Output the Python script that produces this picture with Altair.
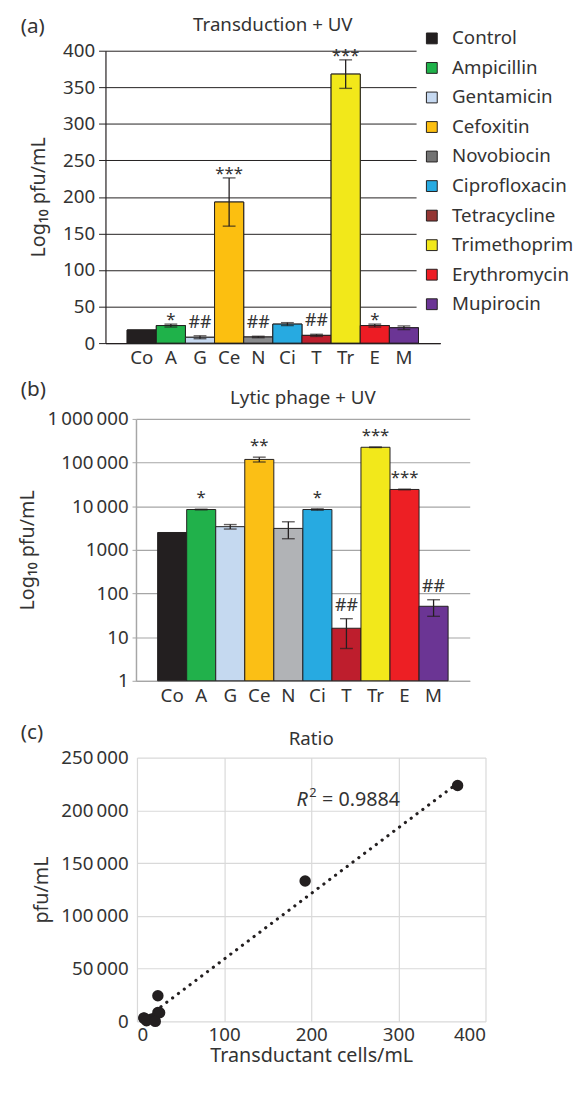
import altair as alt
import pandas as pd

FONT = "Noto Sans"
TXT = "#333333"
INK = "#231f20"
GRAY = "#a6a6a6"

codes = ["Co", "A", "G", "Ce", "N", "Ci", "T", "Tr", "E", "M"]
drugs = ["Control", "Ampicillin", "Gentamicin", "Cefoxitin", "Novobiocin",
         "Ciprofloxacin", "Tetracycline", "Trimethoprim", "Erythromycin", "Mupirocin"]
legend_colors = ["#231f20", "#1fb24a", "#c6d9f1", "#fcbf10", "#737373",
                 "#27aae1", "#943634", "#f2e81a", "#ed1c24", "#6b3595"]
bar_colors_a = ["#231f20", "#1fb24a", "#c6d9f1", "#fcbf10", "#8a8b8d",
                "#27aae1", "#be1e2d", "#f2e81a", "#ed1c24", "#6b3595"]
bar_colors_b = ["#231f20", "#21b14b", "#c5d9f0", "#fbbf15", "#b1b3b6",
                "#27aae1", "#be1e2d", "#f2e81b", "#ed1f24", "#6b3594"]

# (a) Transduction + UV
trans_mean = [18, 24, 8, 193, 8.4, 26, 10.6, 368, 24, 21]
trans_err = [0, 2, 2, 33, 1, 2, 1.5, 19.5, 2, 2.5]
trans_sig = ["", "*", "##", "***", "##", "", "##", "***", "*", ""]

# (b) Lytic phage + UV
lytic_mean = [2500, 8400, 3400, 118000, 3100, 8400, 16, 224000, 24200, 51]
lytic_err = [0, 150, 400, 15000, 1300, 300, 10.5, 3000, 400, 21]
lytic_sig = ["", "*", "", "**", "", "*", "##", "***", "***", "##"]

# (c) Ratio
ratio_x = [18, 24, 8, 193, 8, 26, 11, 368, 24, 21]
ratio_y = [2500, 8400, 3000, 133000, 3400, 8200, 600, 223500, 24400, 50]
trend_x = [7.5, 368]
trend_y = [1500, 225700]

y_ticks_a = [0, 50, 100, 150, 200, 250, 300, 350, 400]
y_ticks_b = [1, 10, 100, 1000, 10000, 100000, 1000000]
x_ticks_c = [0, 100, 200, 300, 400]
y_ticks_c = [0, 50000, 100000, 150000, 200000, 250000]

SP = "\u2009"
LBL = ("datum.value >= 10000 ? replace(replace(format(datum.value, ',d'), ',', '" + SP +
       "'), ',', '" + SP + "') : format(datum.value, 'd')")


def make_df(mean, err, sig, fills):
    df = pd.DataFrame({"code": codes, "drug": drugs, "mean": mean, "err": err,
                       "sig": sig, "fill": fills})
    df["lo"] = df["mean"] - df["err"]
    df["hi"] = df["mean"] + df["err"]
    return df


def text_at(txt, x, y, size, align="left", italic=False):
    return alt.Chart(pd.DataFrame({"t": [txt]})).mark_text(
        align=align, baseline="middle", fontSize=size, font=FONT, color=TXT,
        fontStyle="italic" if italic else "normal"
    ).encode(x=alt.value(x), y=alt.value(y), text="t:N")


def bar_panel(df, yscale, yaxis, baseline, off, pw, height, domcolor, star_dy, legend,
              label, title, ly, ty):
    xenc = alt.X("code:N", sort=codes,
                 scale=alt.Scale(paddingInner=0, paddingOuter=0.745, range=[off, off + pw]),
                 axis=alt.Axis(title=None, labelAngle=0, labelFontSize=19, labelPadding=6,
                               ticks=False, domainColor=domcolor, domainWidth=1.2))

    def yenc(field, stack=False):
        if stack:
            return alt.Y(field + ":Q", scale=yscale, axis=yaxis, stack=None)
        return alt.Y(field + ":Q", scale=yscale, axis=yaxis)

    base = alt.Chart(df)
    layers = []
    if legend:
        layers.append(base.mark_bar(stroke=INK, strokeWidth=1).encode(
            x=xenc, y=yenc("mean", True), y2=alt.datum(baseline),
            color=alt.Color("drug:N", sort=drugs,
                            scale=alt.Scale(domain=drugs, range=legend_colors),
                            legend=alt.Legend(orient="none", legendX=316, legendY=-28, title=None,
                                              symbolType="square", symbolSize=121,
                                              symbolStrokeColor=INK, symbolStrokeWidth=1,
                                              labelFontSize=19, labelColor=TXT, labelFont=FONT,
                                              rowPadding=10, labelOffset=11,
                                              fillColor="white", padding=6))))
    layers.append(base.mark_bar(stroke=INK, strokeWidth=1).encode(
        x=xenc, y=yenc("mean", True), y2=alt.datum(baseline),
        fill=alt.Fill("fill:N", scale=None)))
    eb = base.transform_filter("datum.err > 0")
    layers.append(eb.mark_rule(color=INK, strokeWidth=1.3).encode(
        x=xenc, y=yenc("lo"), y2="hi:Q"))
    layers.append(eb.mark_tick(color=INK, size=13, thickness=1.4).encode(x=xenc, y=yenc("lo")))
    layers.append(eb.mark_tick(color=INK, size=13, thickness=1.4).encode(x=xenc, y=yenc("hi")))
    layers.append(base.transform_filter("indexof(datum.sig, '*') >= 0").mark_text(
        baseline="alphabetic", dy=star_dy, fontSize=17, font=FONT, color=TXT).encode(
        x=xenc, y=yenc("hi"), text="sig:N"))
    layers.append(base.transform_filter("datum.sig == '##'").mark_text(
        baseline="alphabetic", dy=-8, fontSize=18, font=FONT, color=TXT).encode(
        x=xenc, y=yenc("hi"), text="sig:N"))
    layers.append(text_at(label, -86, ly, 21))
    layers.append(text_at(title, off + pw / 2, ty, 19, align="center"))
    return alt.layer(*layers).properties(width=off + pw, height=height)


df_a = make_df(trans_mean, trans_err, trans_sig, bar_colors_a)
df_b = make_df(lytic_mean, lytic_err, lytic_sig, bar_colors_b)

yaxis_a = alt.Axis(values=y_ticks_a, title="Log₁₀ pfu/mL", titleFontSize=20, titlePadding=14,
                   labelFontSize=19, labelPadding=4, tickSize=7, tickColor=INK,
                   gridColor=INK, gridWidth=1, domainColor=INK, domainWidth=1.2)
chart_a = bar_panel(df_a, alt.Scale(domain=[0, 400], nice=False), yaxis_a, 0, 0, 340, 297,
                    INK, 1, True, "(a)", "Transduction + UV", -24, -26)

OFF_B = 31
yaxis_b = alt.Axis(values=y_ticks_b, labelExpr=LBL, title="Log₁₀ pfu/mL", titleFontSize=20,
                   titlePadding=10, labelFontSize=19, labelPadding=4, tickSize=4, offset=-OFF_B,
                   tickColor=GRAY, gridColor=GRAY, gridWidth=1.2,
                   domainColor=GRAY, domainWidth=1.5)
chart_b = bar_panel(df_b, alt.Scale(type="log", domain=[1, 1000000], nice=False), yaxis_b, 1,
                    OFF_B, 339, 266, GRAY, -6, False, "(b)", "Lytic phage + UV", -29, -21)

OFF_C = 32
df_c = pd.DataFrame({"x": ratio_x, "y": ratio_y})
df_t = pd.DataFrame({"x": trend_x, "y": trend_y})
xc = alt.X("x:Q", scale=alt.Scale(domain=[0, 400], nice=False, range=[OFF_C, OFF_C + 354]),
           axis=alt.Axis(values=x_ticks_c, title="Transductant cells/mL", titleFontSize=20,
                         titlePadding=2, labelFontSize=19, labelPadding=4, ticks=False, domain=False,
                         gridColor="#d9d9d9", gridWidth=1.2))
yc = alt.Y("y:Q", scale=alt.Scale(domain=[0, 250000], nice=False),
           axis=alt.Axis(values=y_ticks_c, labelExpr=LBL, title="pfu/mL", titleFontSize=20,
                         titlePadding=10, labelFontSize=19, labelPadding=9, ticks=False, domain=False,
                         offset=-OFF_C, gridColor="#d9d9d9", gridWidth=1.2))
pts = alt.Chart(df_c).mark_circle(size=135, color=INK, opacity=1).encode(x=xc, y=yc)
trend = alt.Chart(df_t).mark_line(color=INK, strokeWidth=3.2, strokeDash=[0.1, 7.3],
                                  strokeCap="round").encode(x=xc, y=yc)
chart_c = alt.layer(
    trend, pts,
    text_at("(c)", -86, -25, 21),
    text_at("Ratio", OFF_C + 177, -19, 19, align="center"),
    text_at("R", OFF_C + 162, 43, 20, italic=True),
    text_at("2", OFF_C + 175, 36, 13),
    text_at("= 0.9884", OFF_C + 188, 43, 20),
).properties(width=OFF_C + 354, height=268)

chart = alt.vconcat(
    alt.vconcat(chart_a, chart_b, spacing=12),
    chart_c, spacing=17
).properties(
    padding={"left": 9, "top": 0, "right": 0, "bottom": 0}
).resolve_scale(color="independent").configure_view(stroke=None).configure_axis(
    labelColor=TXT, titleColor=TXT, labelFont=FONT, titleFont=FONT, titleFontWeight="normal"
)

chart.save("out.html", embed_options={"renderer": "svg", "actions": False})
